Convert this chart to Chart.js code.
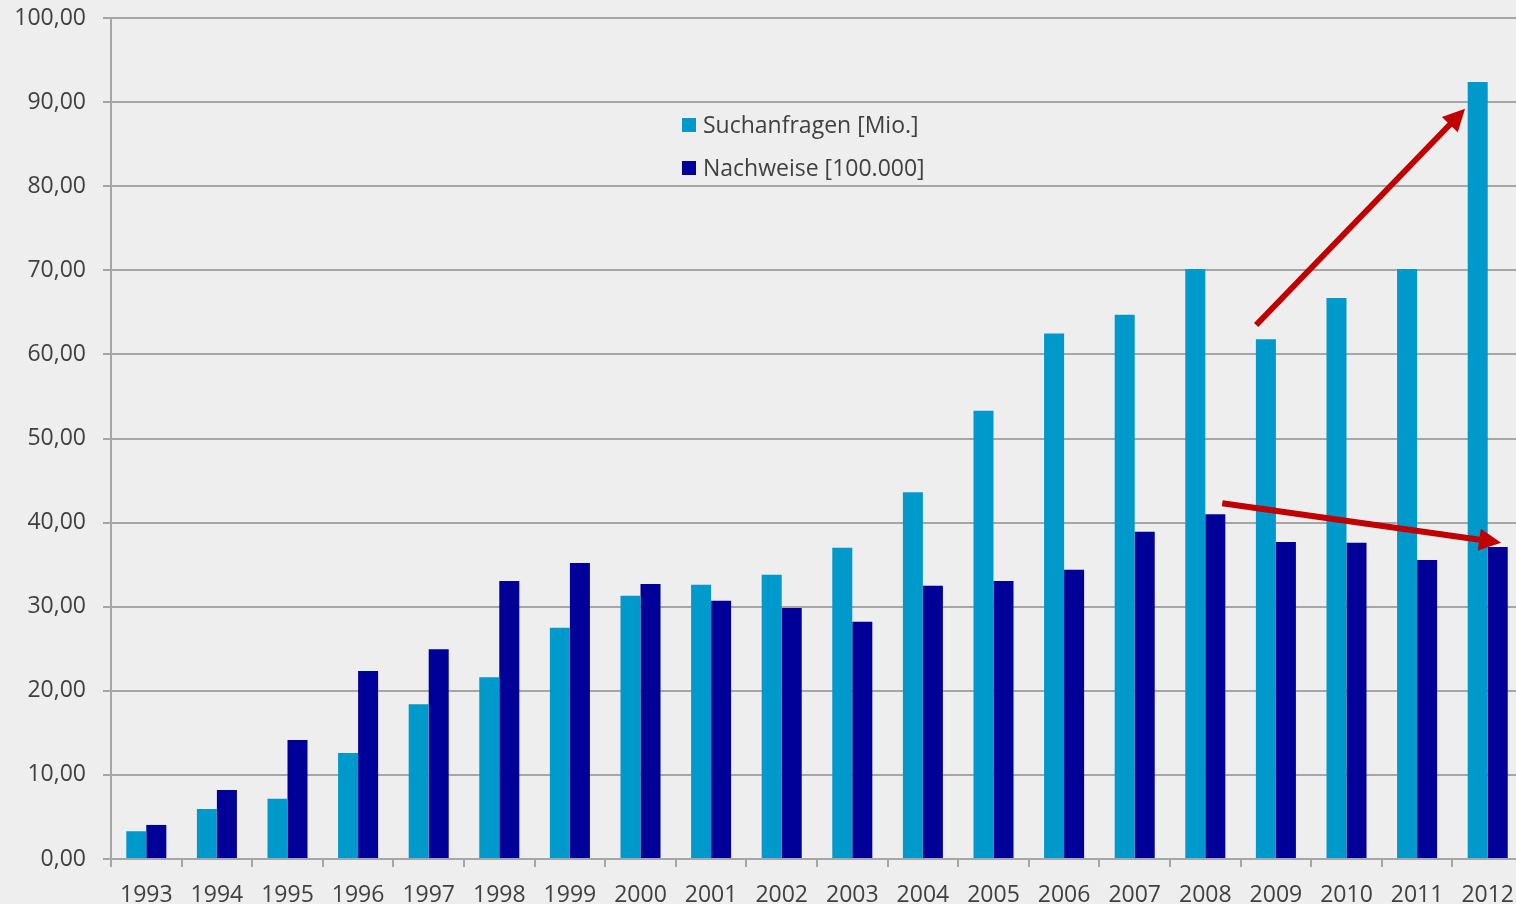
<!DOCTYPE html>
<html>
<head>
<meta charset="utf-8">
<script src="https://cdn.jsdelivr.net/npm/chart.js@4"></script>
<style>
  body { margin: 0; background: #eeeeee; overflow: hidden; }
  #wrap { width: 1523px; height: 904px; }
</style>
</head>
<body>
<div id="wrap"><canvas id="grafico"></canvas></div>
<script>
const jahre = ["1993", "1994", "1995", "1996", "1997", "1998", "1999", "2000", "2001", "2002",
  "2003", "2004", "2005", "2006", "2007", "2008", "2009", "2010", "2011", "2012"];

// Suchanfragen [Mio.]
const suchanfragen = [3.3, 5.95, 7.15, 12.6, 18.4, 21.6, 27.5, 31.3, 32.6, 33.8,
  37.0, 43.6, 53.3, 62.5, 64.7, 70.15, 61.8, 66.7, 70.15, 92.4];

// Nachweise [100.000]
const nachweise = [4.05, 8.2, 14.15, 22.35, 24.95, 33.05, 35.2, 32.7, 30.7, 29.85,
  28.2, 32.5, 33.05, 34.4, 38.9, 41.0, 37.7, 37.6, 35.55, 37.1];

const y_ticks = [0, 10, 20, 30, 40, 50, 60, 70, 80, 90, 100];

// Pfeile: [Kategorie-Index, Wert] Start und Ende
const pfeil_hoch = [[15.72, 63.5], [18.68, 89.2]];
const pfeil_runter = [[15.24, 42.3], [19.19, 37.6]];

const grau = "#a6a6a6";
const text_farbe = "#404040";
const schrift = "'Open Sans', sans-serif";

// Legende im Diagramm
const legendePlugin = {
  id: "legende",
  afterDatasetsDraw(chart) {
    const ctx = chart.ctx;
    ctx.save();
    ctx.font = "23px " + schrift;
    ctx.textBaseline = "middle";
    chart.data.datasets.forEach((ds, i) => {
      const y = 125 + i * 43;
      ctx.fillStyle = ds.backgroundColor;
      ctx.fillRect(682, y - 7, 14, 14);
      ctx.fillStyle = text_farbe;
      ctx.fillText(ds.label, 703, y + 1);
    });
    ctx.restore();
  },
};

// rote Pfeile
const pfeilPlugin = {
  id: "pfeile",
  afterDatasetsDraw(chart) {
    const ctx = chart.ctx;
    const xs = chart.scales.x;
    const ys = chart.scales.y;
    const breite = xs.getPixelForValue(1) - xs.getPixelForValue(0);
    [pfeil_hoch, pfeil_runter].forEach((p) => {
      const x1 = xs.getPixelForValue(0) + p[0][0] * breite;
      const y1 = ys.getPixelForValue(p[0][1]);
      const x2 = xs.getPixelForValue(0) + p[1][0] * breite;
      const y2 = ys.getPixelForValue(p[1][1]);
      const w = Math.atan2(y2 - y1, x2 - x1);
      const kopf = 22;
      const bx = x2 - kopf * Math.cos(w);
      const by = y2 - kopf * Math.sin(w);
      ctx.save();
      ctx.strokeStyle = "#c00000";
      ctx.fillStyle = "#c00000";
      ctx.lineWidth = 6;
      ctx.beginPath();
      ctx.moveTo(x1, y1);
      ctx.lineTo(bx + 4 * Math.cos(w), by + 4 * Math.sin(w));
      ctx.stroke();
      ctx.beginPath();
      ctx.moveTo(x2, y2);
      ctx.lineTo(bx + 11 * Math.sin(w), by - 11 * Math.cos(w));
      ctx.lineTo(bx - 11 * Math.sin(w), by + 11 * Math.cos(w));
      ctx.closePath();
      ctx.fill();
      ctx.restore();
    });
  },
};

const grafico = new Chart(document.getElementById("grafico"), {
  type: "bar",
  data: {
    labels: jahre,
    datasets: [
      {
        label: "Suchanfragen [Mio.]",
        data: suchanfragen,
        backgroundColor: "#0099cc",
        categoryPercentage: 0.567,
        barPercentage: 1.0,
      },
      {
        label: "Nachweise [100.000]",
        data: nachweise,
        backgroundColor: "#000099",
        categoryPercentage: 0.567,
        barPercentage: 1.0,
      },
    ],
  },
  options: {
    responsive: true,
    maintainAspectRatio: false,
    animation: false,
    layout: { padding: { top: 18, left: 0, right: 0, bottom: 0 } },
    plugins: {
      legend: { display: false },
      tooltip: { enabled: false },
    },
    scales: {
      x: {
        afterFit(scale) {
          scale.height = 45;
          scale.paddingLeft = 0;
          scale.paddingRight = 0;
        },
        grid: { drawOnChartArea: false, drawTicks: true, tickLength: 8, color: grau, lineWidth: 2 },
        border: { color: grau, width: 2 },
        ticks: { color: text_farbe, font: { family: schrift, size: 23 }, padding: 15, maxRotation: 0 },
      },
      y: {
        min: 0,
        max: 100,
        afterFit(scale) {
          scale.width = 111;
          scale.paddingTop = 0;
          scale.paddingBottom = 0;
        },
        afterBuildTicks(scale) { scale.ticks = y_ticks.map((v) => ({ value: v })); },
        grid: { color: grau, lineWidth: 2, tickLength: 8 },
        border: { color: grau, width: 2 },
        ticks: {
          color: text_farbe,
          font: { family: schrift, size: 23 },
          padding: 17,
          callback: (v) => v.toFixed(2).replace(".", ","),
        },
      },
    },
  },
  plugins: [legendePlugin, pfeilPlugin],
});
</script>
</body>
</html>
